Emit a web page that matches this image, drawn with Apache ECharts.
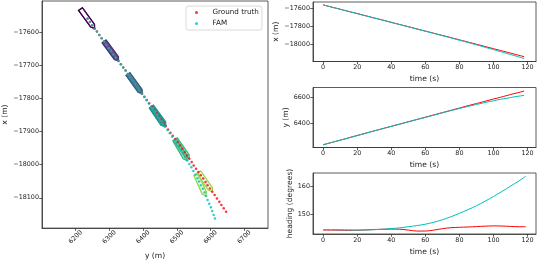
<!DOCTYPE html>
<html><head><meta charset="utf-8">
<script src="https://cdn.jsdelivr.net/npm/echarts@6/dist/echarts.min.js"></script>
<style>html,body{margin:0;padding:0;background:#fff}#c{width:540px;height:265px}</style>
</head><body><div id="c"></div>
<script>
// ---------- data ----------
const timeSec = [0,2,4,6,8,10,12,14,16,18,20,22,24,26,28,30,32,34,36,38,40,42,44,46,48,50,52,54,56,58,60,62,64,66,68,70,72,74,76,78,80,82,84,86,88,90,92,94,96,98,100,102,104,106,108,110,112,114,116,118];
const xGround = [-17558,-17568,-17578,-17588,-17597,-17607,-17617,-17627,-17637,-17646,-17656,-17666,-17676,-17686,-17696,-17706,-17715,-17725,-17735,-17745,-17755,-17765,-17775,-17785,-17794,-17804,-17814,-17824,-17834,-17844,-17853,-17863,-17873,-17883,-17893,-17903,-17912,-17922,-17932,-17942,-17952,-17962,-17972,-17982,-17992,-18002,-18012,-18022,-18032,-18042,-18052,-18062,-18072,-18082,-18092,-18102,-18112,-18122,-18132,-18142];
const yGround = [6235,6242,6249,6256,6263,6270,6277,6284,6292,6299,6306,6313,6320,6327,6334,6341,6348,6355,6362,6369,6376,6383,6390,6397,6404,6411,6418,6425,6432,6439,6446,6453,6460,6467,6474,6481,6488,6495,6502,6509,6516,6523,6530,6537,6544,6550,6557,6564,6571,6578,6585,6591,6598,6605,6612,6619,6626,6632,6639,6646];
const xFam = [-17558,-17568,-17578,-17588,-17597,-17607,-17617,-17627,-17637,-17647,-17656,-17666,-17676,-17686,-17696,-17706,-17715,-17725,-17735,-17745,-17755,-17765,-17775,-17785,-17795,-17805,-17815,-17825,-17835,-17845,-17855,-17865,-17875,-17885,-17895,-17905,-17915,-17925,-17935,-17946,-17956,-17966,-17977,-17987,-17998,-18008,-18019,-18030,-18041,-18051,-18062,-18073,-18084,-18095,-18107,-18118,-18129,-18140,-18152,-18163];
const yFam = [6235,6242,6249,6256,6263,6270,6277,6284,6291,6298,6305,6312,6319,6327,6334,6341,6348,6355,6362,6369,6376,6383,6389,6396,6403,6410,6417,6424,6431,6437,6444,6451,6458,6465,6472,6479,6486,6493,6499,6506,6512,6519,6525,6531,6537,6543,6549,6555,6561,6566,6571,6577,6582,6587,6591,6596,6601,6605,6609,6613];
const headTime = [0,5,10,15,20,25,30,35,40,45,50,55,60,65,70,75,80,85,90,95,100,105,110,115,119];
const headGround = [144.3,144.3,144.25,144.2,144.25,144.35,144.5,144.6,144.65,144.6,144.3,143.95,143.95,144.3,144.8,145.15,145.3,145.4,145.55,145.7,145.8,145.75,145.6,145.5,145.5];
const headFam = [144.5,144.45,144.4,144.35,144.3,144.35,144.45,144.6,144.85,145.1,145.5,145.9,146.4,147.1,148.0,149.05,150.3,151.6,153.0,154.6,156.3,158.1,160.0,161.9,163.6];
const boatTimes = [0,20,40,60,80,100];
// tick labels
const eastTicksMap = [6200,6300,6400,6500,6600,6700];
const northTicksMap = [-18100,-18000,-17900,-17800,-17700,-17600];
const timeTicks = [0,20,40,60,80,100,120];
const northTicks = [-18000,-17800,-17600];
const eastTicks = [6400,6600];
const headTicks = [150,160];

// ---------- styles ----------
const RED = '#ff0000', CYAN = '#00bfbf';
const boatColors = ['#440154','#443a83','#31688e','#21918c','#35b779','#8fd744'];
const boatFillAlpha = [0, 0.6, 0.6, 0.6, 0.5, 0.15];
const BOAT_LEN = 72, BOAT_BEAM = 14, BOW = 10;
const FONT = 'DejaVu Sans';
const TICK_FS = 6.4, LABEL_FS = 7.6;
const minus = v => String(v).replace('-', '\u2212');

const boatData = [];
boatTimes.forEach((t, k) => {
  const i = timeSec.indexOf(t), j = headTime.indexOf(t);
  boatData.push([yGround[i], xGround[i], headGround[j], k]);
  boatData.push([yFam[i], xFam[i], headFam[j], k]);
});

function hexA(hex, a) {
  const n = parseInt(hex.slice(1), 16);
  return `rgba(${(n>>16)&255},${(n>>8)&255},${n&255},${a})`;
}

function axis(gridIndex, min, max, ticks, extra) {
  return Object.assign({
    type: 'value', gridIndex, min, max, scale: true,
    axisLine: {show: true, onZero: false, lineStyle: {color: '#333', width: 0.8}},
    axisTick: {show: true, length: 2.7, customValues: ticks, lineStyle: {color: '#333', width: 0.8}},
    axisLabel: {customValues: ticks, fontSize: TICK_FS, color: '#222', fontFamily: FONT, margin: 3, formatter: minus},
    splitLine: {show: false},
    nameLocation: 'middle',
    nameTextStyle: {fontSize: LABEL_FS, color: '#222', fontFamily: FONT}
  }, extra);
}

const chart = echarts.init(document.getElementById('c'), null, {renderer: 'canvas'});
const gridBase = {show: true, borderColor: '#333', borderWidth: 0.8, containLabel: false};
chart.setOption({
  animation: false,
  backgroundColor: '#fff',
  grid: [
    Object.assign({left: 42, top: 1, width: 226, height: 232}, gridBase),
    Object.assign({left: 313, top: 2, width: 223, height: 59.5}, gridBase),
    Object.assign({left: 313, top: 87.5, width: 223, height: 60}, gridBase),
    Object.assign({left: 313, top: 173, width: 223, height: 61}, gridBase)
  ],
  xAxis: [
    axis(0, 6100.1, 6770.3, eastTicksMap, {name: 'y (m)', nameGap: 20,
      axisLabel: {customValues: eastTicksMap, fontSize: TICK_FS, color: '#222', fontFamily: FONT, rotate: 45, align: 'center', verticalAlign: 'middle', margin: 9, formatter: minus}}),
    axis(1, -5.95, 124.95, timeTicks, {name: 'time (s)', nameGap: 14}),
    axis(2, -5.95, 124.95, timeTicks, {name: 'time (s)', nameGap: 14}),
    axis(3, -5.95, 124.95, timeTicks, {name: 'time (s)', nameGap: 14})
  ],
  yAxis: [
    axis(0, -18191.9, -17504.3, northTicksMap, {name: 'x (m)', nameGap: 31}),
    axis(1, -18196.5, -17525.5, northTicks, {name: 'x (m)', nameGap: 31}),
    axis(2, 6214, 6673, eastTicks, {name: 'y (m)', nameGap: 23}),
    axis(3, 142.9, 164.7, headTicks, {name: 'heading (degrees)', nameGap: 17})
  ],
  legend: {
    data: [{name: 'Ground truth', icon: 'circle'}, {name: 'FAM', icon: 'circle'}],
    orient: 'vertical', left: 186, top: 6,
    itemWidth: 22, itemHeight: 3, itemGap: 4,
    padding: [3, 3, 3, 9],
    borderColor: '#d0d0d0', borderWidth: 0.8, borderRadius: 2,
    backgroundColor: 'rgba(255,255,255,0.8)',
    textStyle: {fontSize: 7.2, color: '#222', fontFamily: FONT}
  },
  series: [
    {
      type: 'custom', name: 'boats', xAxisIndex: 0, yAxisIndex: 0, z: 1,
      data: boatData,
      renderItem(params, api) {
        const e = api.value(0), n = api.value(1), h = api.value(2) * Math.PI / 180, k = api.value(3);
        const fe = Math.sin(h), fn = Math.cos(h);   // forward (east, north)
        const le = Math.cos(h), ln = -Math.sin(h);  // lateral
        const L = BOAT_LEN / 2, B = BOAT_BEAM / 2;
        const shape = [[-L, -B], [L - BOW, -B], [L, 0], [L - BOW, B], [-L, B]];
        const pts = shape.map(([a, b]) => api.coord([e + a * fe + b * le, n + a * fn + b * ln]));
        return {type: 'polygon', shape: {points: pts},
          style: {fill: hexA(boatColors[k], boatFillAlpha[k]), stroke: boatColors[k], lineWidth: 1.2}};
      }
    },
    {type: 'scatter', name: 'Ground truth', xAxisIndex: 0, yAxisIndex: 0, z: 3, symbolSize: 2.5,
      itemStyle: {color: RED}, data: yGround.map((v, i) => [v, xGround[i]])},
    {type: 'scatter', name: 'FAM', xAxisIndex: 0, yAxisIndex: 0, z: 4, symbolSize: 2.5,
      itemStyle: {color: CYAN}, data: yFam.map((v, i) => [v, xFam[i]])},
    {type: 'line', xAxisIndex: 1, yAxisIndex: 1, showSymbol: false, lineStyle: {color: RED, width: 1}, itemStyle: {color: RED},
      data: timeSec.map((t, i) => [t, xGround[i]])},
    {type: 'line', xAxisIndex: 1, yAxisIndex: 1, showSymbol: false, lineStyle: {color: CYAN, width: 1}, itemStyle: {color: CYAN},
      data: timeSec.map((t, i) => [t, xFam[i]])},
    {type: 'line', xAxisIndex: 2, yAxisIndex: 2, showSymbol: false, lineStyle: {color: RED, width: 1}, itemStyle: {color: RED},
      data: timeSec.map((t, i) => [t, yGround[i]])},
    {type: 'line', xAxisIndex: 2, yAxisIndex: 2, showSymbol: false, lineStyle: {color: CYAN, width: 1}, itemStyle: {color: CYAN},
      data: timeSec.map((t, i) => [t, yFam[i]])},
    {type: 'line', xAxisIndex: 3, yAxisIndex: 3, showSymbol: false, smooth: 0.3, lineStyle: {color: RED, width: 1}, itemStyle: {color: RED},
      data: headTime.map((t, i) => [t, headGround[i]])},
    {type: 'line', xAxisIndex: 3, yAxisIndex: 3, showSymbol: false, smooth: 0.3, lineStyle: {color: CYAN, width: 1}, itemStyle: {color: CYAN},
      data: headTime.map((t, i) => [t, headFam[i]])}
  ]
});
</script></body></html>
